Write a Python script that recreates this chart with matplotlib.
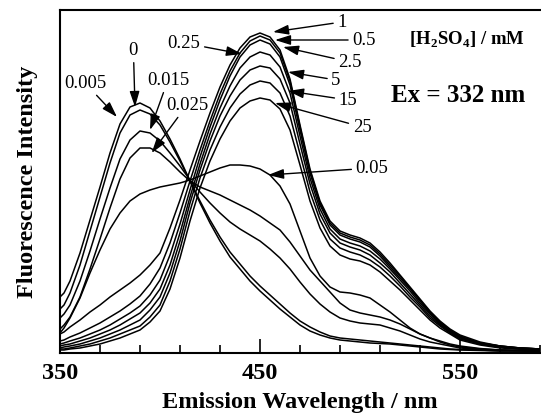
import numpy as np
import matplotlib
matplotlib.use('Agg')
import matplotlib.pyplot as plt

plt.rcParams['font.family'] = 'Liberation Serif'
plt.rcParams['mathtext.fontset'] = 'custom'
plt.rcParams['mathtext.rm'] = 'Liberation Serif'
plt.rcParams['mathtext.bf'] = 'Liberation Serif:bold'

# wavelength grid (nm)
wl = [350, 352, 355, 360, 365, 370, 375, 380, 385, 390, 395, 400, 405, 410, 415,
      420, 425, 430, 435, 440, 445, 450, 455, 460, 465, 470, 475, 480, 485, 490,
      495, 500, 505, 510, 515, 520, 525, 530, 535, 540, 545, 550, 560, 570, 580, 590]

# [H2SO4] = 0.005 mM
c_0005 = [56, 60, 72, 100, 133, 166, 200, 229, 246, 250, 245, 232, 214, 194, 172,
          150, 130, 112, 96, 84, 72, 62, 53, 44, 36, 28, 22, 18, 15, 13,
          12, 11, 10, 9.5, 9, 8, 7, 6, 5, 4, 3.5, 3, 2.5, 2, 2, 2]
# 0 mM
c_0 = [44, 48, 60, 88, 122, 156, 190, 220, 238, 243, 239, 228, 211, 192, 172,
       152, 133, 116, 101, 89, 77, 67, 58, 49, 40, 32, 26, 21, 17, 15,
       14, 13, 12, 11, 10, 9, 8, 7, 6, 5, 4, 3.5, 3, 2, 2, 2]
# 0.015 mM
c_0015 = [35, 39, 48, 72, 102, 134, 165, 194, 213, 222, 220, 212, 200, 187, 173,
          161, 150, 140, 131, 124, 118, 112, 104, 95, 84, 71, 59, 49, 41, 35,
          32, 30, 29, 28, 25, 22, 18, 14, 11, 9, 7, 5, 3.5, 3, 2.5, 2]
# 0.025 mM
c_0025 = [24, 28, 36, 56, 84, 114, 145, 174, 195, 205, 205, 200, 191, 181, 172,
          166, 162, 158, 153, 148, 143, 137, 130, 123, 111, 97, 83, 72, 61, 50,
          43, 40, 38, 36, 33, 29, 24, 19, 15, 12, 9, 7, 4.5, 3, 2.5, 2]
# 0.05 mM
c_005 = [20, 25, 35, 55, 80, 103, 124, 140, 152, 159, 163, 166, 168, 170, 173,
         177, 181, 185, 188, 188, 187, 184, 178, 167, 149, 122, 95, 77, 66, 61,
         60, 58, 55, 48, 41, 33, 25, 19, 15, 11, 8, 6, 4, 3, 2.5, 2]
# 1 mM
c_1 = [19, 21, 26, 33, 41, 48, 56, 63, 70, 78, 88, 100, 125, 153, 183,
       212, 240, 266, 288, 305, 316, 320, 316, 303, 274, 228, 184, 152, 132, 122,
       118, 115, 110, 101, 90, 78, 66, 54, 42, 32, 24, 18, 11, 7, 5, 4]
# 0.5 mM
c_05 = [12, 13, 16, 20, 25, 30, 36, 42, 49, 57, 69, 85, 110, 140, 172,
        203, 232, 259, 282, 300, 312, 317, 313, 300, 272, 226, 182, 150, 130, 120,
        116, 113, 108, 99, 88, 77, 65, 53, 41, 31, 23, 17, 10, 7, 5, 4]
# 0.25 mM
c_025 = [9, 10, 12, 15, 19, 23, 28, 34, 40, 47, 58, 73, 98, 129, 163,
         196, 226, 253, 277, 296, 308, 313, 309, 296, 268, 223, 180, 148, 128, 118,
         114, 111, 106, 97, 86, 75, 64, 52, 40, 30, 22, 16, 10, 7, 5, 4]
# 2.5 mM
c_25 = [7, 8, 9, 12, 15, 19, 23, 28, 34, 40, 50, 64, 88, 120, 156,
        189, 219, 245, 267, 285, 296, 301, 298, 286, 260, 217, 175, 144, 124, 114,
        110, 107, 102, 94, 84, 73, 62, 50, 39, 29, 22, 16, 10, 6, 5, 4]
# 5 mM
c_5 = [5, 6, 7, 9, 12, 15, 19, 23, 28, 33, 43, 56, 80, 112, 150,
       183, 212, 237, 257, 273, 283, 287, 285, 274, 250, 209, 169, 139, 120, 110,
       106, 103, 98, 90, 81, 70, 59, 48, 37, 28, 21, 15, 9, 6, 4, 3]
# 15 mM
c_15 = [4, 4, 5, 7, 9, 12, 15, 19, 23, 27, 36, 48, 72, 104, 142,
        175, 203, 226, 245, 259, 268, 272, 270, 260, 237, 199, 161, 133, 114, 105,
        101, 98, 93, 86, 77, 67, 56, 46, 35, 27, 20, 14, 9, 6, 4, 3]
# 25 mM
c_250 = [3, 3, 4, 5, 7, 9, 12, 15, 19, 23, 31, 42, 64, 95, 132,
         165, 192, 214, 232, 245, 252, 255, 253, 244, 223, 188, 152, 125, 107, 98,
         94, 92, 88, 81, 72, 63, 53, 43, 33, 25, 19, 13, 8, 5, 4, 3]

spectra = [c_0, c_0005, c_0015, c_0025, c_005, c_025, c_05, c_1, c_25, c_5, c_15, c_250]

# labels: text, arrow tip (nm, intensity), text position
labels = ['0.005', '0', '0.015', '0.025', '0.25', '1', '0.5', '2.5', '5', '15', '25', '0.05']
tips = [(378.5, 236), (387.5, 246), (395, 223), (395.8, 200), (441, 299), (456.5, 321),
        (457.5, 313), (461.5, 306), (464, 281), (464, 262), (457.5, 250), (454, 178)]
textpos = [(362.5, 270), (386.7, 303), (404, 273), (413.5, 248), (412, 310), (491, 331),
           (502, 313), (495, 291), (488, 273), (494, 253), (501, 226), (506, 185)]

fig = plt.figure(figsize=(5.41, 4.15), dpi=100)
ax = fig.add_axes([60/541, 62/415, 480/541, 343/415])

for s in spectra:
    ax.plot(wl, s, color='black', lw=1.1)

for lab, tip, tp in zip(labels, tips, textpos):
    ax.annotate(lab, xy=tip, xytext=tp, ha='center', va='center', fontsize=13.5,
                arrowprops=dict(arrowstyle='-|>,head_length=0.7,head_width=0.22',
                                color='black', lw=1.0, shrinkA=1, shrinkB=0))

ax.text(553.5, 313, r'[H$_\mathbf{2}$SO$_\mathbf{4}$] / mM', ha='center', va='center',
        fontsize=13.5, fontweight='bold')
ax.text(549, 258, 'Ex = 332 nm', ha='center', va='center', fontsize=18, fontweight='bold')

ax.set_xlim(350, 590)
ax.set_ylim(0, 343)
ax.set_xticks([350, 450, 550])
ax.set_xticks(np.arange(370, 591, 20), minor=True)
ax.set_yticks([])
ax.tick_params(axis='x', which='major', direction='in', length=10, width=1.2,
               labelsize=17.5, pad=7)
ax.tick_params(axis='x', which='minor', direction='in', length=6, width=1.2)
for lab in ax.get_xticklabels():
    lab.set_fontweight('bold')
ax.spines['right'].set_visible(False)
for sp in ['left', 'bottom', 'top']:
    ax.spines[sp].set_linewidth(1.5)

ax.set_xlabel('Emission Wavelength / nm', fontsize=17.5, fontweight='bold', labelpad=6)
ax.set_ylabel('Fluorescence Intensity', fontsize=17.5, fontweight='bold', labelpad=16)

plt.savefig('out.png', dpi=100)
